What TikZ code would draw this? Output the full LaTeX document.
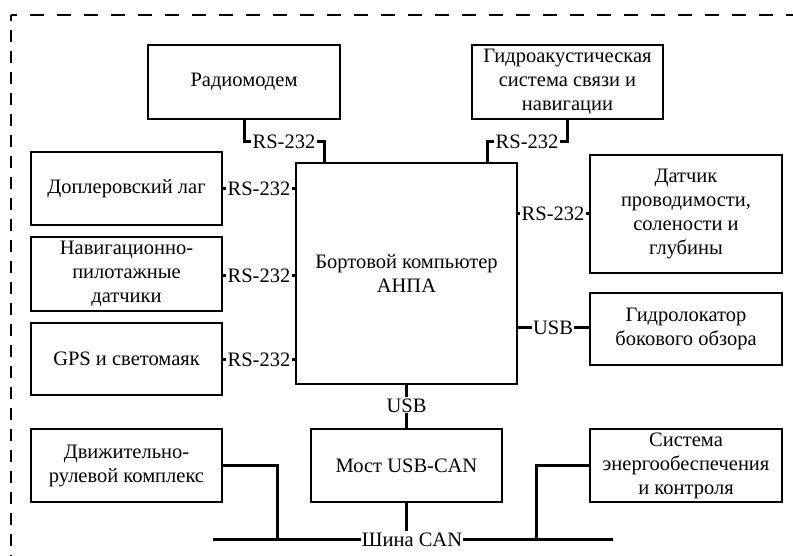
\documentclass[tikz,border=0pt]{standalone}
\usepackage{fontspec}
\setmainfont{Liberation Serif}
\begin{document}
\begin{tikzpicture}[x=1pt,y=-1pt,
  box/.style={draw,line width=1.5pt,align=center,inner sep=2pt,
    font=\fontsize{20.5}{24}\selectfont},
  lbl/.style={inner sep=1pt,text height=14pt,text depth=0pt,
    font=\fontsize{20.5}{24}\selectfont},
  conn/.style={line width=3pt},
  frame/.style={line width=2pt}]
\useasboundingbox (0,0) rectangle (793,555);
\clip (0,0) rectangle (793,555);
% outer dashed frame (left and top sides)
\draw[frame,dash pattern=on 14pt off 13pt,dash phase=8pt] (11,15) -- (810,15);
\draw[frame,dash pattern=on 12pt off 9pt,dash phase=6pt] (11,15) -- (11,570);

% blocks
\node[box,minimum width=192,minimum height=74] (rad) at (244,82) {Радиомодем};
\node[box,minimum width=191,minimum height=74] (hyd) at (567.5,82)
  {Гидроакустическая\\система связи и\\навигации};
\node[box,minimum width=221,minimum height=221] (comp) at (406.5,273.5)
  {Бортовой компьютер\\АНПА};
\node[box,minimum width=191,minimum height=73] (dop) at (126.5,188.5) {Доплеровский лаг};
\node[box,minimum width=191,minimum height=74] (nav) at (126.5,274)
  {Навигационно-\\пилотажные\\датчики};
\node[box,minimum width=191,minimum height=72] (gps) at (126.5,359) {GPS и светомаяк};
\node[box,minimum width=192,minimum height=118] (ctd) at (686,214)
  {Датчик\\проводимости,\\солености и\\глубины};
\node[box,minimum width=192,minimum height=72] (sonar) at (686,329)
  {Гидролокатор\\бокового обзора};
\node[box,minimum width=191,minimum height=73] (bridge) at (406.5,465.5) {Мост USB-CAN};
\node[box,minimum width=191,minimum height=73] (prop) at (126.5,465.5)
  {Движительно-\\рулевой комплекс};
\node[box,minimum width=192,minimum height=73] (power) at (686,465.5)
  {Система\\энергообеспечения\\и контроля};

% interface labels
\node[lbl] (rsrad) at (284,141) {RS-232};
\node[lbl] (rshyd) at (527,141) {RS-232};
\node[lbl] (rsdop) at (259,188) {RS-232};
\node[lbl] (rsnav) at (259,275) {RS-232};
\node[lbl] (rsgps) at (259,359) {RS-232};
\node[lbl] (rsctd) at (553,213) {RS-232};
\node[lbl] (usbson) at (553,327) {USB};
\node[lbl] (usbbr) at (406.5,405) {USB};
\node[lbl] (can) at (412,539) {Шина CAN};

% bus ends and junctions
\coordinate (busL) at (213,539);
\coordinate (busR) at (613,539);
\coordinate (jL) at (277,539);
\coordinate (jR) at (536,539);

% connections to the on-board computer
\draw[conn] (rad.south) |- (rsrad.west);
\draw[conn] (rsrad.east) -| ([xshift=29]comp.north west);
\draw[conn] (hyd.south) |- (rshyd.east);
\draw[conn] (rshyd.west) -| ([xshift=-30]comp.north east);
\foreach \b/\l in {dop/rsdop,nav/rsnav,gps/rsgps}{
  \draw[conn] (\b.east |- \l) -- (\l.west);
  \draw[conn] (\l.east) -- (comp.west |- \l);
}
\foreach \b/\l in {ctd/rsctd,sonar/usbson}{
  \draw[conn] (comp.east |- \l) -- (\l.west);
  \draw[conn] (\l.east) -- (\b.west |- \l);
}
\draw[conn] (comp.south) -- (usbbr.north -| comp.south);
\draw[conn] (usbbr.south -| bridge.north) -- (bridge.north);

% CAN bus
\draw[conn] (bridge.south) -- (bridge.south |- can.north);
\draw[conn] (busL) -- (can.west);
\draw[conn] (can.east) -- (busR);
\draw[conn] (prop.east) -| (jL);
\draw[conn] (power.west) -| (jR);
\end{tikzpicture}
\end{document}
